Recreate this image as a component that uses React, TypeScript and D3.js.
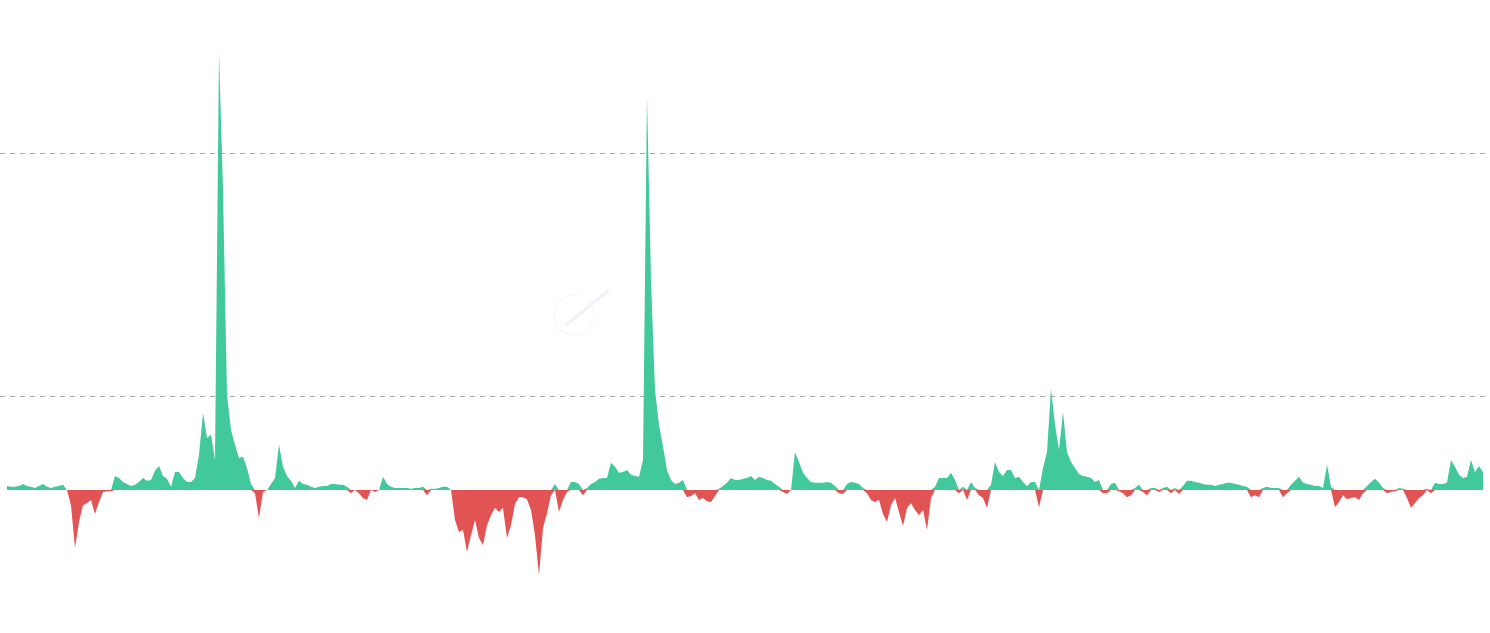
import * as d3 from 'd3'
import { useEffect, useRef } from 'react'

const width = 1490
const height = 633
const marginLeft = 7
const marginRight = 7

// values, one every few days, split into chunks
const seg0 = [
  1.0, 0.8, 0.8, 1.0, 1.5, 1.0, 0.8, 0.5, 1.0, 1.5, 0.8, 0.5, 0.8, 1.0, 1.3, 0, -3.8, -14.5, -8.0, -3.8,
  -3.3, -2.5, -6.0, -3.0, -0.5, -0.3, -0.3, 3.5, 3.0, 2.0, 1.5, 1.0, 1.3, 2.0, 3.0, 2.3, 2.5, 4.8, 6.0, 3.5,
  2.8, 0.8, 4.5, 4.5, 3.0, 2.0, 2.0, 3.0, 8.8, 19.3
]
const seg1 = [
  13.0, 13.8, 7.5, 109.3, 75.0, 23.8, 15.0, 11.3, 8.0, 8.3, 5.5, 1.5, -0.8, -7.0, -0.5, 0, 1.5, 3.0, 11.3, 5.8,
  3.5, 2.3, 0.5, 2.3, 1.5, 1.3, 0.8, 0.5, 0.8, 1.0, 1.0, 1.5, 1.5, 1.3, 1.3, 0.8, -0.8, 0, -0.8, -2.0,
  -2.5, 0, -0.5, 0, 3.3, 1.5, 0.8, 0.5, 0.5, 0.5
]
const seg2 = [
  0.5, 0.3, 0.5, 0.5, 0.8, -1.3, 0.3, 0.3, 0.5, 0.8, 0.8, 0, -7.5, -10.5, -10.0, -15.5, -11.3, -7.5, -12.0, -13.8,
  -8.8, -6.3, -4.5, -5.5, -4.5, -12.0, -8.8, -3.5, -1.8, -1.8, -2.3, -5.0, -11.3, -21.3, -9.5, -5.8, -1.3, 1.5, -5.5, -2.5,
  -0.5, 2.0, 2.0, 1.5, -1.3, 0.5, 1.5, 2.0, 2.8, 3.0
]
const seg3 = [
  3.0, 6.8, 5.8, 4.3, 4.5, 5.0, 3.8, 3.5, 3.3, 7.5, 98.5, 52.5, 25.0, 16.3, 10.8, 5.0, 2.5, 1.5, 1.8, 2.5,
  -1.8, -1.5, -0.8, -2.5, -2.0, -2.8, -3.0, -1.5, 0.3, 1.0, 1.8, 3.0, 2.5, 2.5, 2.8, 3.0, 3.5, 2.5, 3.3, 3.0,
  2.5, 2.3, 1.5, 0.8, -0.5, -1.0, 0, 9.5, 7.0, 4.3
]
const seg4 = [
  3.0, 2.0, 1.8, 1.8, 1.8, 2.0, 1.8, 1.0, -0.8, -1.0, 1.5, 2.0, 1.8, 1.5, 0.5, -0.8, -2.5, -3.0, -2.5, -6.0,
  -8.0, -3.8, -2.0, -5.5, -9.0, -4.5, -3.3, -5.0, -6.3, -5.0, -10.0, -2.0, 0.8, 3.0, 3.0, 3.0, 4.3, 2.5, -0.8, 0.8,
  -2.5, 2.0, 0.5, -1.3, -2.0, -4.5, 1.3, 7.0, 4.5, 3.5
]
const seg5 = [
  5.0, 5.0, 3.0, 3.3, 2.0, 1.0, 2.0, 2.0, -4.3, 5.5, 9.5, 25.3, 16.3, 10.0, 19.5, 9.5, 7.0, 5.5, 4.0, 3.5,
  3.3, 3.0, 2.0, 2.5, -0.8, -0.8, 1.5, 1.8, -0.3, -0.8, -1.8, -1.3, 0.5, 1.3, -0.5, -1.3, 0.5, 0.5, -0.5, 0.5,
  0.8, -0.8, 0.5, -1.0, 1.0, 2.3, 2.3, 2.0, 1.8, 1.5
]
const seg6 = [
  1.3, 1.3, 1.0, 1.3, 1.5, 1.8, 1.8, 1.5, 1.3, 1.0, 0.8, -1.8, -1.3, -1.8, 0.5, 0.8, 0.5, 0.5, 0.5, -1.8,
  -0.8, 1.3, 2.3, 3.3, 1.8, 1.5, 1.3, 1.0, 1.0, 0.5, 6.3, 0.8, -4.3, -3.0, -1.3, -2.3, -2.0, -1.8, -2.5, -0.8,
  1.0, 2.0, 2.8, 1.8, 0.5, -0.8, -0.5, -0.3, 0.5, 0.3
]
const seg7 = [
  -2.0, -4.5, -3.3, -2.0, -1.3, 0.3, -0.8, 1.8, 1.5, 1.5, 1.8, 7.5, 5.8, 3.8, 3.0, 3.3, 7.5, 4.5, 6.0, 4.5
]

const gridValues = [23.5, 84.25]

const values = [...seg0, ...seg1, ...seg2, ...seg3, ...seg4, ...seg5, ...seg6, ...seg7]

export default function App() {
  const ref = useRef<SVGSVGElement>(null)

  useEffect(() => {
    const svg = d3.select(ref.current)
    svg.selectAll('*').remove()

    const x = d3.scaleLinear([0, values.length - 1], [marginLeft, width - marginRight])
    const y = d3.scaleLinear([-30, 120], [610, 10])

    // dashed grid lines, no labels
    svg
      .append('g')
      .selectAll('line')
      .data(gridValues)
      .join('line')
      .attr('x1', 0)
      .attr('x2', width - 4)
      .attr('y1', d => Math.round(y(d)) + 0.5)
      .attr('y2', d => Math.round(y(d)) + 0.5)
      .attr('stroke', '#a8a8a8')
      .attr('stroke-dasharray', '5,5')

    // faint watermark
    const wm = svg.append('g').attr('transform', 'translate(574,315)').attr('opacity', 0.5)
    wm.append('path')
      .attr('d', d3.arc()({ innerRadius: 19.5, outerRadius: 20.5, startAngle: 0.9, endAngle: 2 * Math.PI + 0.3 }) ?? '')
      .attr('fill', '#eeeeee')
    wm.append('line')
      .attr('x1', -8).attr('y1', 10).attr('x2', 34).attr('y2', -24)
      .attr('stroke', '#e4e2f8').attr('stroke-width', 3).attr('stroke-linecap', 'round')

    const pos = d3
      .area<number>()
      .x((_, i) => x(i))
      .y0(y(0))
      .y1(d => y(Math.max(d, 0)))

    const neg = d3
      .area<number>()
      .x((_, i) => x(i))
      .y0(y(0))
      .y1(d => y(Math.min(d, 0)))

    svg.append('path').attr('fill', '#42c99b').attr('d', pos(values))
    svg.append('path').attr('fill', '#e25454').attr('d', neg(values))
  }, [])

  return (
    <svg
      ref={ref}
      width={width}
      height={height}
      viewBox={`0 0 ${width} ${height}`}
      style={{ position: 'absolute', left: 0, top: 0, display: 'block', background: '#fff' }}
    ></svg>
  )
}
